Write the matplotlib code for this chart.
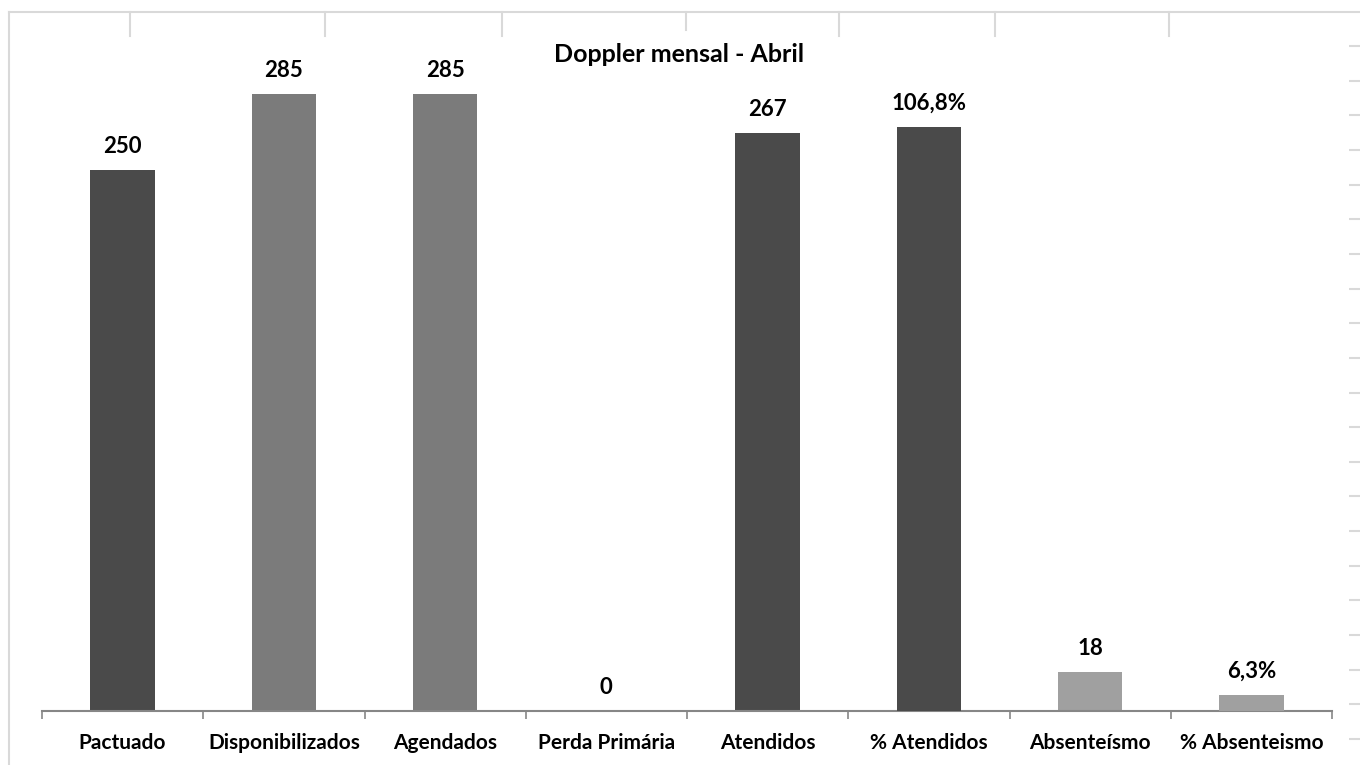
import numpy as np
import matplotlib
matplotlib.use('Agg')
import matplotlib.pyplot as plt

plt.rcParams['font.family'] = ['Lato', 'DejaVu Sans']

categories = ['Pactuado', 'Disponibilizados', 'Agendados', 'Perda Primária',
              'Atendidos', '% Atendidos', 'Absenteísmo', '% Absenteismo']
counts = [250, 285, 285, 0, 267, None, 18, None]
percents = [None, None, None, None, None, 1.068, None, 0.063]
count_labels = ['250', '285', '285', '0', '267', None, '18', None]
pct_labels = [None, None, None, None, None, '106,8%', None, '6,3%']
colors = ['#4a4a4a', '#7b7b7b', '#7b7b7b', '#4a4a4a', '#4a4a4a', '#4a4a4a', '#a0a0a0', '#a0a0a0']
title = 'Doppler mensal - Abril'

W, H = 1360, 765
fig = plt.figure(figsize=(W / 100, H / 100), dpi=100)

# background frame (grid-like borders of the sheet)
frame = fig.add_axes([0, 0, 1, 1], zorder=0)
frame.set_xlim(0, W)
frame.set_ylim(H, 0)
frame.axis('off')
grid_col = '#d9d9d9'
frame.plot([9, W], [12, 12], color=grid_col, lw=1.5)
frame.plot([9, 9], [12, H], color=grid_col, lw=1.5)
top_ticks = [130, 325, 502, 686, 839, 995, 1169]
top_len = [36, 36, 36, 30, 36, 36, 36]
for x, y2 in zip(top_ticks, top_len):
    frame.plot([x, x], [12, y2], color=grid_col, lw=1.5)
right_ticks = 46 + 34.65 * np.arange(21)
frame.hlines(right_ticks, 1349, W, color=grid_col, lw=1.5)

# main chart area
x0, x1 = 42, 1332
base, top = 711, 45
ax = fig.add_axes([x0 / W, (H - base) / H, (x1 - x0) / W, (base - top) / H], zorder=2)
ax.patch.set_alpha(0)
ax2 = ax.twinx()
ax2.patch.set_alpha(0)

x = np.arange(len(categories))
bw = 0.4
for i in range(len(categories)):
    if counts[i] is not None:
        ax.bar(x[i], counts[i], width=bw, color=colors[i])
        ax.annotate(count_labels[i], (x[i], counts[i]), xytext=(0, 17),
                    textcoords='offset points', ha='center', va='center',
                    fontsize=16, fontweight='bold')
    if percents[i] is not None:
        ax2.bar(x[i], percents[i], width=bw, color=colors[i], bottom=0)
        ax2.annotate(pct_labels[i], (x[i], percents[i]), xytext=(0, 17),
                     textcoords='offset points', ha='center', va='center',
                     fontsize=16, fontweight='bold')

ax.set_xlim(-0.5, len(categories) - 0.5)
ax.set_ylim(0, 666 / 2.164)
ax2.set_ylim(0.0347, 0.0347 + 666 / 565.2)

for a in (ax, ax2):
    for s in ['top', 'right', 'left']:
        a.spines[s].set_visible(False)
    a.set_yticks([])
ax2.spines['bottom'].set_visible(False)

ax.spines['bottom'].set_color('#868686')
ax.spines['bottom'].set_linewidth(1.5)
ax.set_xticks(x)
ax.set_xticklabels(categories, fontsize=15, fontweight='bold')
ax.tick_params(axis='x', which='major', length=0, pad=16)
ax.set_xticks(np.arange(-0.5, len(categories)), minor=True)
ax.tick_params(axis='x', which='minor', length=6, width=1.2, color='#868686')

fig.text(679 / W, 1 - 55 / H, title, ha='center', va='center',
         fontsize=18, fontweight='bold')

fig.savefig('out.png', dpi=100)
plt.close()
